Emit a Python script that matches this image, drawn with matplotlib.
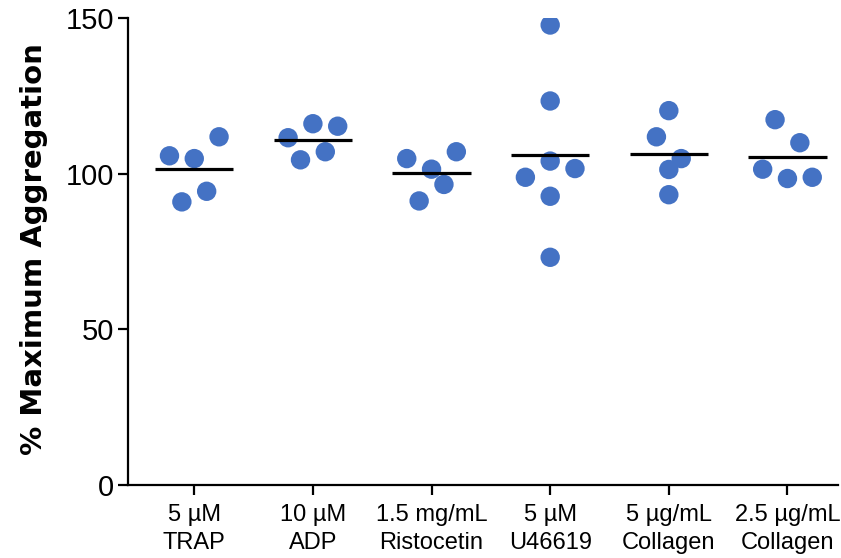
import numpy as np
import matplotlib.pyplot as plt

# data, in entry order per condition
conditions = ["5 µM\nTRAP", "10 µM\nADP", "1.5 mg/mL\nRistocetin",
              "5 µM\nU46619", "5 µg/mL\nCollagen", "2.5 µg/mL\nCollagen"]
trap = [105.7, 104.8, 111.8, 90.9, 94.3]
adp = [111.5, 116.0, 115.2, 104.4, 107.0]
ristocetin = [104.8, 101.4, 107.0, 91.2, 96.5]
u46619 = [147.7, 123.3, 98.8, 104.0, 101.6, 92.7, 73.1]
collagen_5 = [120.2, 111.8, 104.8, 101.3, 93.2]
collagen_2_5 = [117.3, 109.9, 101.4, 98.4, 98.8]
groups = [trap, adp, ristocetin, u46619, collagen_5, collagen_2_5]
yticks = [0, 50, 100, 150]

DOT_COLOR = "#4472C4"


def spread_offsets(values, bin_width=7.5, step=0.209):
    """Prism-like scatter spread: bin values top-down into rows,
    then centre each row's points horizontally in entry order."""
    order = sorted(range(len(values)), key=lambda i: -values[i])
    rows = []
    for i in order:
        if rows and values[rows[-1][0]] - values[i] <= bin_width:
            rows[-1].append(i)
        else:
            rows.append([i])
    offs = np.zeros(len(values))
    for row in rows:
        row.sort()
        for j, i in enumerate(row):
            offs[i] = (j - (len(row) - 1) / 2) * step
    return offs


plt.rcParams["font.family"] = ["Liberation Sans", "DejaVu Sans"]

fig = plt.figure(figsize=(8.41, 5.58), dpi=100)
ax = fig.add_axes([0.152, 0.131, 0.845, 0.837])

for i, vals in enumerate(groups):
    xs = i + spread_offsets(vals)
    ax.scatter(xs, vals, s=195, color=DOT_COLOR, edgecolors="none", zorder=2)
    ax.hlines(np.mean(vals), i - 0.33, i + 0.33, color="black", lw=2.3, zorder=3)

ax.set_xlim(-0.56, 5.43)
ax.set_ylim(0, 150)
ax.set_yticks(yticks)
ax.set_xticks(range(len(conditions)))
ax.set_xticklabels(conditions, fontsize=17, linespacing=1.35)
ax.tick_params(axis="y", labelsize=21, length=7, width=1.6, pad=3)
ax.tick_params(axis="x", length=7, width=1.6, pad=7)

for side in ["top", "right"]:
    ax.spines[side].set_visible(False)
for side in ["left", "bottom"]:
    ax.spines[side].set_linewidth(1.6)

ax.set_ylabel("% Maximum Aggregation", fontsize=21, fontweight="bold",
              family="DejaVu Sans")
ax.yaxis.set_label_coords(-0.113, 0.505)

fig.savefig("out.png", dpi=100)
